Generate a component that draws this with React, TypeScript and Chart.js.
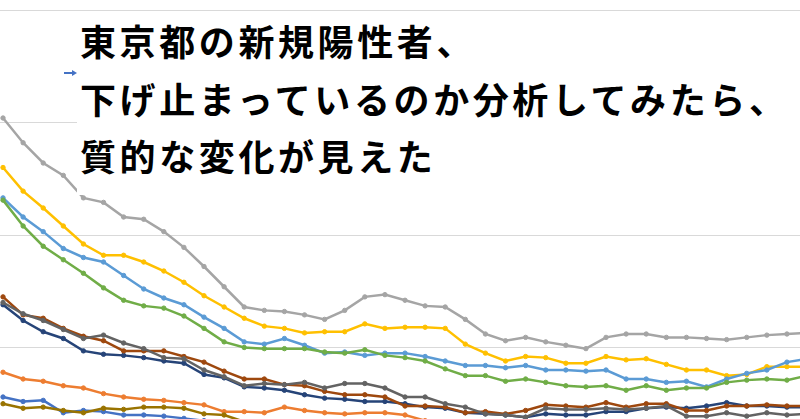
import React, { useEffect, useRef } from "react";
import { Chart, registerables } from "chart.js";

Chart.register(...registerables);

// week index (x categories)
const weeks = [
  1, 2, 3, 4, 5, 6, 7, 8, 9, 10, 11, 12, 13, 14, 15, 16, 17, 18, 19, 20, 21,
  22, 23, 24, 25, 26, 27, 28, 29, 30, 31, 32, 33, 34, 35, 36, 37, 38, 39, 40, 41,
];

const seriesNames = ["10歳未満", "10代", "20代", "30代", "40代", "50代", "60代", "70代", "80代", "90代以上"];
const seriesColors = ["#4472C4", "#ED7D31", "#A5A5A5", "#FFC000", "#5B9BD5", "#70AD47", "#264478", "#9E480E", "#636363", "#997300"];

const blueVals = [56, 52, 53, 42, 44, 43, 40, 40, 39, 37, 35, 33, 32, 30, 29, 28, 27, 27, 26, 25, 24, 24, 23, 22, 21, 21, 20, 20, 19, 19, 19, 18, 18, 18, 17, 17, 17, 17, 16, 16, 16];
const orangeVals = [78, 72, 70, 66, 64, 59, 56, 54, 53, 51, 49, 43, 43, 42, 47, 44, 42, 41, 42, 42, 40, 35, 33, 31, 30, 28, 27, 26, 26, 25, 25, 24, 24, 24, 23, 23, 23, 22, 22, 22, 23];
const grayVals = [304, 282, 264, 253, 233, 229, 216, 214, 203, 189, 172, 154, 136, 133, 132, 129, 125, 133, 145, 147, 142, 137, 136, 125, 112, 106, 109, 105, 102, 99, 109, 112, 112, 109, 109, 108, 107, 109, 111, 112, 113];
const yellowVals = [260, 239, 224, 208, 192, 182, 182, 176, 168, 158, 146, 136, 126, 119, 117, 113, 114, 114, 121, 117, 118, 118, 117, 103, 95, 88, 92, 91, 86, 86, 92, 89, 90, 85, 80, 80, 75, 76, 83, 83, 83];
const lightBlueVals = [233, 216, 203, 188, 180, 176, 164, 152, 144, 138, 127, 117, 105, 103, 108, 102, 95, 96, 93, 95, 95, 92, 88, 84, 84, 82, 84, 80, 80, 79, 80, 72, 72, 69, 70, 65, 72, 77, 80, 87, 90];
const greenVals = [231, 208, 190, 178, 166, 153, 142, 137, 135, 128, 117, 105, 100, 99, 99, 99, 96, 95, 98, 93, 91, 88, 81, 75, 75, 70, 72, 69, 66, 65, 66, 62, 66, 62, 64, 64, 69, 71, 72, 71, 75];
const navyVals = [138, 124, 114, 108, 97, 94, 93, 91, 88, 86, 76, 73, 65, 64, 62, 58, 55, 54, 52, 52, 50, 47, 46, 42, 41, 40, 38, 41, 40, 40, 43, 43, 46, 47, 46, 48, 51, 48, 48, 47, 47];
const brownVals = [145, 129, 126, 117, 110, 106, 97, 97, 97, 92, 87, 79, 72, 72, 67, 66, 61, 58, 58, 56, 48, 48, 47, 42, 43, 41, 44, 49, 48, 47, 51, 47, 50, 50, 44, 44, 48, 48, 49, 48, 48];
const darkGrayVals = [140, 130, 124, 116, 108, 111, 104, 99, 91, 90, 80, 74, 66, 68, 67, 69, 64, 68, 68, 64, 56, 56, 50, 47, 41, 40, 38, 46, 45, 45, 46, 45, 46, 48, 39, 39, 42, 39, 42, 40, 41];
const oliveVals = [50, 46, 47, 44, 42, 46, 45, 47, 47, 46, 41, 40, 34, 32, 31, 30, 29, 28, 28, 27, 27, 26, 26, 25, 25, 24, 24, 23, 23, 23, 22, 22, 22, 21, 21, 21, 21, 20, 20, 20, 20];

const seriesValues = [blueVals, orangeVals, grayVals, yellowVals, lightBlueVals, greenVals, navyVals, brownVals, darkGrayVals, oliveVals];

const yTicks = [0, 100, 200, 300, 400];

const titleLines = ["東京都の新規陽性者、", "下げ止まっているのか分析してみたら、", "質的な変化が見えた"];

export default function App() {
  const ref = useRef<HTMLCanvasElement>(null);

  useEffect(() => {
    if (!ref.current) return;
    const chart = new Chart(ref.current, {
      type: "line",
      data: {
        datasets: seriesValues.map((vals, i) => ({
          label: seriesNames[i],
          data: weeks.map((w, j) => ({ x: j, y: vals[j] })),
          borderColor: seriesColors[i],
          backgroundColor: seriesColors[i],
          pointBackgroundColor: seriesColors[i],
          pointBorderColor: seriesColors[i],
          borderWidth: 2.5,
          pointRadius: 2.2,
          pointBorderWidth: 1,
          tension: 0,
          fill: false,
          order: seriesValues.length - i,
        })),
      },
      options: {
        responsive: false,
        animation: false,
        layout: { padding: 0, autoPadding: false },
        plugins: {
          legend: { display: false },
          tooltip: { enabled: false },
          title: { display: false },
        },
        scales: {
          x: { type: "linear", min: -0.15, max: 39.65, display: false },
          y: {
            min: yTicks[0],
            max: yTicks[yTicks.length - 1],
            ticks: { display: false, stepSize: 100 },
            grid: { color: "#D9D9D9", drawTicks: false, lineWidth: 1 },
            border: { display: false },
          },
        },
      },
    });
    return () => chart.destroy();
  }, []);

  return (
    <div
      style={{
        position: "fixed",
        left: 0,
        top: 0,
        width: 800,
        height: 419,
        overflow: "hidden",
        background: "#ffffff",
      }}
    >
      <canvas
        ref={ref}
        width={800}
        height={450}
        style={{ position: "absolute", left: 0, top: 10, width: 800, height: 450 }}
      />
      <div
        style={{
          position: "absolute",
          left: 64,
          top: 72,
          width: 9,
          height: 2,
          background: "#4472C4",
        }}
      />
      <div
        style={{
          position: "absolute",
          left: 72,
          top: 70,
          width: 0,
          height: 0,
          borderTop: "3px solid transparent",
          borderBottom: "3px solid transparent",
          borderLeft: "5px solid #4472C4",
        }}
      />
      <div
        style={{
          position: "absolute",
          left: 77,
          top: 13,
          width: 723,
          height: 182,
          background: "#ffffff",
        }}
      />
      <div
        style={{
          position: "absolute",
          left: 80,
          top: 12,
          fontFamily: '"Noto Sans CJK JP", sans-serif',
          fontSize: 36,
          fontWeight: 700,
          letterSpacing: "3.6px",
          lineHeight: "57.5px",
          color: "#000000",
          whiteSpace: "nowrap",
        }}
      >
        {titleLines.map((t, i) => (
          <div key={i}>{t}</div>
        ))}
      </div>
    </div>
  );
}
